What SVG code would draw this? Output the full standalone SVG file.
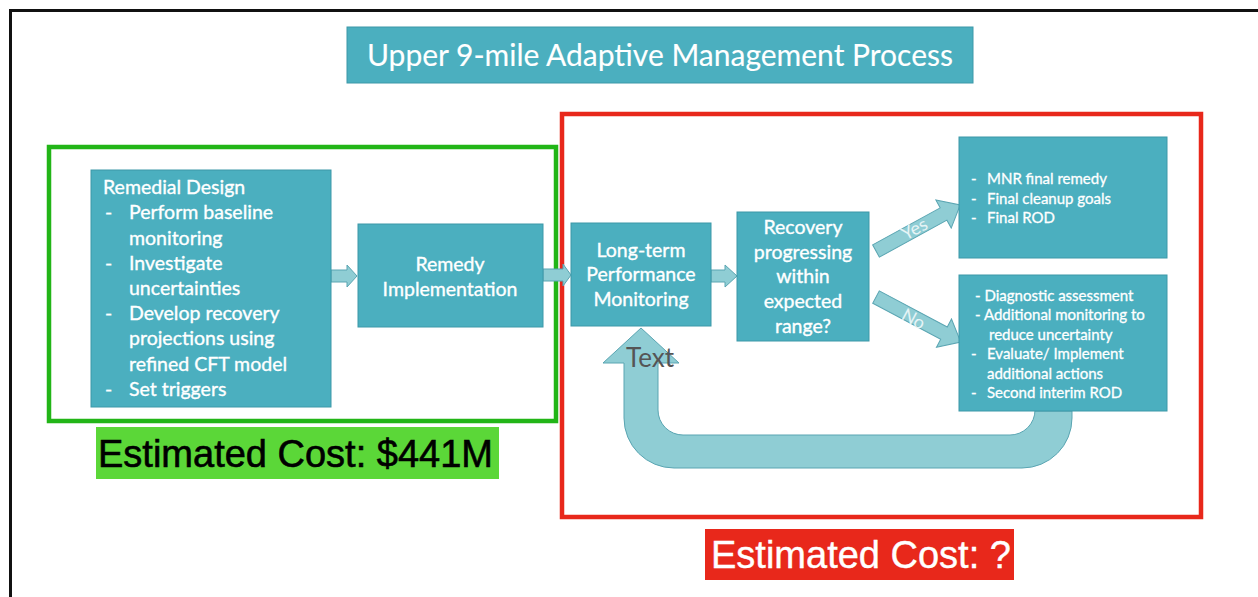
<svg xmlns="http://www.w3.org/2000/svg" width="1258" height="597" viewBox="0 0 1258 597">
<style>
.box{fill:#4bafbf;stroke:#3d98a8;stroke-width:1}
.t{font-family:Lato,"Open Sans","Liberation Sans",sans-serif;fill:#ffffff;stroke:#ffffff;stroke-width:0.35px;font-size:19.5px}
.s{font-family:Lato,"Open Sans","Liberation Sans",sans-serif;fill:#ffffff;stroke:#ffffff;stroke-width:0.3px;font-size:15px}
.c{text-anchor:middle}
.arr{fill:#8fcdd4;stroke:#5aa5b2;stroke-width:1}
.cost{font-family:"Liberation Sans",Arial,sans-serif;font-size:38px}
</style>
<rect width="1258" height="597" fill="#ffffff"/>
<path d="M10.5,600 V10.5 H1262" fill="none" stroke="#111" stroke-width="3"/>

<g id="title">
<rect class="box" x="347" y="27" width="626" height="56"/>
<text class="t c" x="660" y="66" style="font-size:30px;stroke-width:0.1px">Upper 9-mile Adaptive Management Process</text>
</g>

<g id="green-frame">
<rect x="49" y="147" width="507" height="274" fill="none" stroke="#22b517" stroke-width="4.5"/>
</g>
<g id="red-frame">
<rect x="562" y="114" width="639" height="403" fill="none" stroke="#e8281b" stroke-width="4.5"/>
</g>

<g id="connectors">
<path class="arr" d="M331,270 H347 V265 L357,276 L347,287 V282 H331 Z"/>
<path class="arr" d="M543,269 H563 V264 L571,275 L563,286 V281 H543 Z"/>
<path class="arr" d="M711,270 H725 V265 L737,276 L725,287 V282 H711 Z"/>
<path class="arr" transform="translate(876,251) rotate(-28.7)" d="M0,-7 H77 V-16 L96,0 L77,16 V7 H0 Z"/>
<path class="arr" transform="translate(876,297) rotate(28)" d="M0,-7 H77 V-16 L96,0 L77,16 V7 H0 Z"/>
<path class="arr" d="M1072,411 V418 A50,50 0 0 1 1022,468 H674 A50,50 0 0 1 624,418 V363 H603 L641,328 L679,363 H658 V410 A25,25 0 0 0 683,435 H1010 A25,25 0 0 0 1035,410 V411 Z"/>
<text x="915" y="235" transform="rotate(-28.7 915 230)" font-family="Lato,'Open Sans',sans-serif" font-size="18" fill="#e6f4f6" text-anchor="middle">Yes</text>
<text x="913" y="325" transform="rotate(28 913 320)" font-family="Lato,'Open Sans',sans-serif" font-size="18" fill="#e6f4f6" text-anchor="middle">No</text>
<text x="626" y="367" font-family="Lato,'Open Sans',sans-serif" font-size="26" fill="#555555">Text</text>
</g>

<g id="remedial-design">
<rect class="box" x="91" y="170" width="240" height="237"/>
<text class="t" x="103" y="194">Remedial Design</text>
<text class="t" x="105" y="219">-</text><text class="t" x="129" y="219">Perform baseline</text>
<text class="t" x="129" y="245">monitoring</text>
<text class="t" x="105" y="270">-</text><text class="t" x="129" y="270">Investigate</text>
<text class="t" x="129" y="295">uncertainties</text>
<text class="t" x="105" y="320">-</text><text class="t" x="129" y="320">Develop recovery</text>
<text class="t" x="129" y="345">projections using</text>
<text class="t" x="129" y="371">refined CFT model</text>
<text class="t" x="105" y="396">-</text><text class="t" x="129" y="396">Set triggers</text>
</g>

<g id="remedy-implementation">
<rect class="box" x="358" y="224" width="185" height="103"/>
<text class="t c" x="450" y="271">Remedy</text>
<text class="t c" x="450" y="296">Implementation</text>
</g>

<g id="long-term-monitoring">
<rect class="box" x="571" y="223" width="140" height="103"/>
<text class="t c" x="641" y="257">Long-term</text>
<text class="t c" x="641" y="281">Performance</text>
<text class="t c" x="641" y="306">Monitoring</text>
</g>

<g id="recovery-decision">
<rect class="box" x="737" y="212" width="132" height="129"/>
<text class="t c" x="803" y="234">Recovery</text>
<text class="t c" x="803" y="259">progressing</text>
<text class="t c" x="803" y="283">within</text>
<text class="t c" x="803" y="308">expected</text>
<text class="t c" x="803" y="333">range?</text>
</g>

<g id="yes-outcome">
<rect class="box" x="959" y="137" width="208" height="121"/>
<text class="s" x="971" y="184">-</text><text class="s" x="987" y="184">MNR final remedy</text>
<text class="s" x="971" y="204">-</text><text class="s" x="987" y="204">Final cleanup goals</text>
<text class="s" x="971" y="223">-</text><text class="s" x="987" y="223">Final ROD</text>
</g>

<g id="no-outcome">
<rect class="box" x="959" y="275" width="208" height="136"/>
<text class="s" x="975" y="301">- Diagnostic assessment</text>
<text class="s" x="975" y="320">- Additional monitoring to</text>
<text class="s" x="989" y="340">reduce uncertainty</text>
<text class="s" x="971" y="359">-</text><text class="s" x="987" y="359">Evaluate/ Implement</text>
<text class="s" x="987" y="379">additional actions</text>
<text class="s" x="971" y="398">-</text><text class="s" x="987" y="398">Second interim ROD</text>
</g>

<g id="cost-green">
<rect x="96" y="427" width="403" height="52" fill="#5bd738"/>
<text class="cost" x="98" y="467" fill="#000" stroke="#000" stroke-width="0.6">Estimated Cost: $441M</text>
</g>

<g id="cost-red">
<rect x="705" y="529" width="309" height="51" fill="#e8281b"/>
<text class="cost" x="711" y="568" fill="#fff" stroke="#fff" stroke-width="0.4">Estimated Cost: ?</text>
</g>
</svg>
